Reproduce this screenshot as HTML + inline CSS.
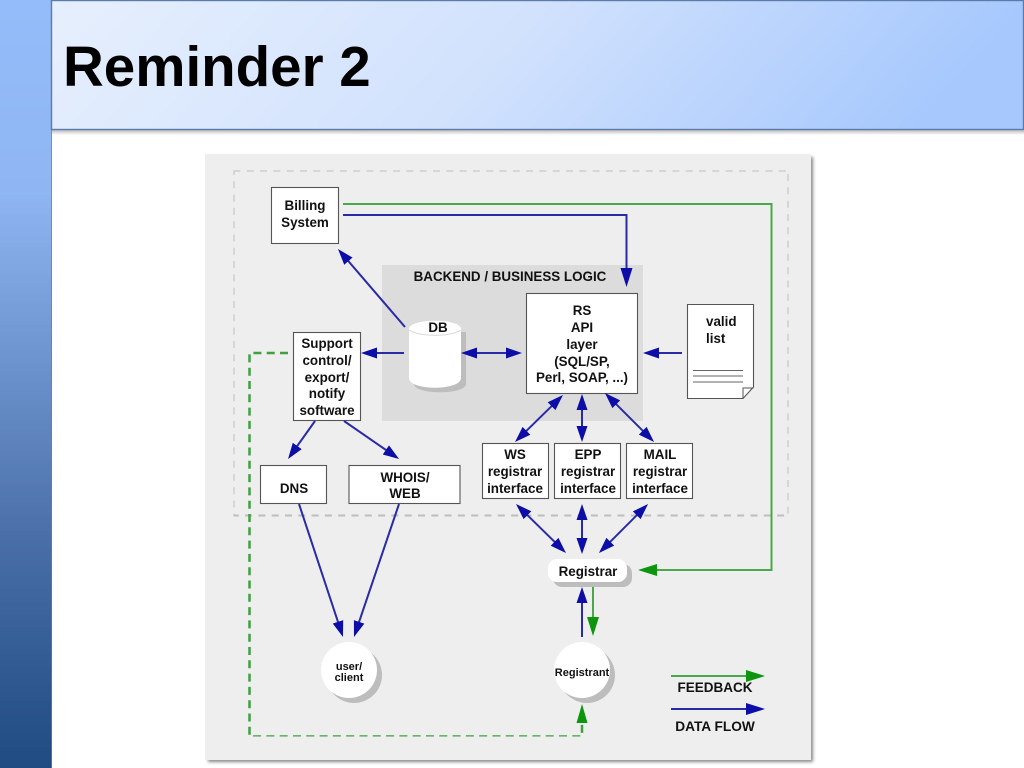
<!DOCTYPE html>
<html><head><meta charset="utf-8"><style>
html,body{margin:0;padding:0;background:#fff;width:1024px;height:768px;overflow:hidden}
svg{display:block;position:absolute;left:0;top:0}
text{font-family:"Liberation Sans",sans-serif;font-weight:bold;fill:#111;text-anchor:middle}
.t{font-size:13.4px}
.b{fill:#fff;stroke:#555;stroke-width:1.100}
.bl{stroke:#2a2aa8;stroke-width:2;fill:none}
.gr{stroke:#4aa84a;stroke-width:2;fill:none}
.e{marker-end:url(#mb)}
.d{marker-start:url(#mb);marker-end:url(#mb)}
.ge{marker-end:url(#mg)}
.ag{fill:#0a960a}
</style></head><body>
<svg width="1024" height="768" viewBox="0 0 1024 768" xmlns="http://www.w3.org/2000/svg">
<defs>
<linearGradient id="side" x1="0" y1="0" x2="0" y2="1"><stop offset="0" stop-color="#94bcfa"/><stop offset=".25" stop-color="#8fb6f2"/><stop offset=".7" stop-color="#4a6fa8"/><stop offset="1" stop-color="#1f4a82"/></linearGradient>
<linearGradient id="head" x1="0" y1="0" x2="1" y2="0.12"><stop offset="0" stop-color="#e6effd"/><stop offset=".5" stop-color="#d2e2fd"/><stop offset="1" stop-color="#a6c8fd"/></linearGradient>
<linearGradient id="hs" x1="0" y1="0" x2="0" y2="1"><stop offset="0" stop-color="#bbb"/><stop offset="1" stop-color="#fff"/></linearGradient>
<filter id="bl" x="-5%" y="-5%" width="110%" height="110%"><feGaussianBlur stdDeviation="1.5"/></filter>
<filter id="soft" x="0" y="0" width="100%" height="100%"><feGaussianBlur stdDeviation="0.3"/></filter>
<marker id="mb" markerUnits="userSpaceOnUse" markerWidth="16" markerHeight="12" refX="10" refY="6" orient="auto-start-reverse"><path d="M0 0.500L16 6L0 11.500Z" fill="#0a0aa8"/></marker>
<marker id="mg" markerUnits="userSpaceOnUse" markerWidth="19" markerHeight="13" refX="13" refY="6.500" orient="auto-start-reverse"><path d="M0 0.500L19 6.500L0 12.500Z" fill="#0a960a"/></marker>
<marker id="mbl" markerUnits="userSpaceOnUse" markerWidth="19" markerHeight="13" refX="13" refY="6.500" orient="auto-start-reverse"><path d="M0 0.500L19 6.500L0 12.500Z" fill="#0a0aa8"/></marker>
</defs>
<rect x="0" y="0" width="52" height="768" fill="url(#side)"/>
<rect x="51" y="130" width="1" height="638" fill="#5f7fae" opacity=".7"/>
<rect x="52" y="130" width="972" height="5" fill="url(#hs)"/>
<rect x="51.500" y="0.500" width="972" height="129" fill="url(#head)" stroke="#5b7bab" stroke-width="1.400"/>
<text x="63" y="86" style="font-size:56.500px;text-anchor:start;fill:#000">Reminder 2</text>

<rect x="208" y="157" width="605" height="605" fill="#888" filter="url(#bl)"/>
<rect x="205" y="154" width="606" height="606" fill="#eeeeee"/>
<g filter="url(#soft)">
<rect x="233.500" y="170.500" width="555" height="345" fill="none" stroke="#bdbdbd" stroke-width="2" stroke-dasharray="7 6.300"/>
<rect x="382" y="265" width="261" height="156" fill="#dcdcdc"/>

<!-- green dashed -->
<path d="M288 353H249.500V736.500H582V723" fill="none" stroke="#3f9f3f" stroke-width="2.500" stroke-dasharray="8 5.300"/>
<polygon class="ag" points="582,704 587.500,723 576.500,723"/>

<!-- boxes -->
<rect class="b" x="271.500" y="187.500" width="67" height="56"/>
<rect class="b" x="293.500" y="332.500" width="67" height="88"/>

<!-- DB -->
<path d="M414 332H466V384C466 395 414 395 414 384Z" fill="#bdbdbd"/>
<path d="M409 329C409 318 461 318 461 329V378C461 391 409 391 409 378Z" fill="#fff"/>
<path d="M409 330C420 337 450 337 461 330" fill="none" stroke="#d4d4d4" stroke-width="1"/>

<rect class="b" x="526.500" y="293.500" width="111" height="100"/>
<path class="b" d="M687.500 304.500H753.500V387L743 398.500H687.500Z"/>
<path d="M743 398.500V388H753.500" fill="none" stroke="#555"/>
<path d="M693 370.500H743M693 376H743M693 382H743" stroke="#666" stroke-width="1"/>

<rect class="b" x="482.500" y="443.500" width="66" height="55"/>
<rect class="b" x="554.500" y="443.500" width="66" height="55"/>
<rect class="b" x="626.500" y="443.500" width="66" height="55"/>
<rect class="b" x="260.500" y="465.500" width="66" height="38"/>
<rect class="b" x="349" y="465.500" width="111" height="38"/>

<!-- registrar -->
<rect x="553" y="564" width="79" height="23" rx="9" fill="#bdbdbd"/>
<rect x="548" y="559" width="79" height="23" rx="9" fill="#fff"/>

<!-- circles -->
<circle cx="354" cy="675" r="28" fill="#bdbdbd"/><circle cx="349" cy="670" r="28" fill="#fff"/>
<circle cx="587" cy="675" r="28" fill="#bdbdbd"/><circle cx="582" cy="670" r="28" fill="#fff"/>

<!-- green lines -->
<path class="gr ge" d="M343 204H771.500V570H644"/>
<path class="gr ge" d="M593 587V630"/>
<path class="gr ge" d="M671 676H759"/>

<!-- blue lines -->
<path class="bl" d="M343 215H626.500V281" style="marker-end:url(#mbl)"/>
<path class="bl e" d="M405 327L341.900 253.600"/>
<path class="bl e" d="M404 353H367"/>
<path class="bl d" d="M467 353H516"/>
<path class="bl e" d="M682 353H649"/>
<path class="bl d" d="M558.700 399.200L519.300 437.800"/>
<path class="bl d" d="M582 400V436"/>
<path class="bl d" d="M609.200 397.200L649.800 437.800"/>
<path class="bl e" d="M315 421L291.500 454.100"/>
<path class="bl e" d="M344 421L394.100 455.600"/>
<path class="bl e" d="M299 504L341.100 631.300"/>
<path class="bl e" d="M399 504L355.900 631.300"/>
<path class="bl d" d="M520.300 508.200L561.700 548.800"/>
<path class="bl d" d="M582 510V548"/>
<path class="bl d" d="M643.800 508.200L603.200 548.800"/>
<path class="bl e" d="M582 637V593"/>
<path class="bl" d="M671 709H759" style="marker-end:url(#mbl)"/>
</g>

<!-- labels -->
<text x="510" y="281" class="t">BACKEND / BUSINESS LOGIC</text>
<text x="305" y="210" class="t">Billing</text><text x="305" y="227" class="t">System</text>
<text x="327" y="348" class="t">Support</text><text x="327" y="365" class="t">control/</text><text x="327" y="382" class="t">export/</text><text x="327" y="398" class="t">notify</text><text x="327" y="415" class="t">software</text>
<text x="438" y="332" class="t">DB</text>
<text x="582" y="315" class="t">RS</text><text x="582" y="332" class="t">API</text><text x="582" y="349" class="t">layer</text><text x="582" y="366" class="t">(SQL/SP,</text><text x="582" y="382" class="t">Perl, SOAP, ...)</text>
<text x="706" y="326" class="t" style="text-anchor:start">valid</text><text x="706" y="343" class="t" style="text-anchor:start">list</text>
<text x="515" y="459" class="t">WS</text><text x="515" y="476" class="t">registrar</text><text x="515" y="493" class="t">interface</text>
<text x="588" y="459" class="t">EPP</text><text x="588" y="476" class="t">registrar</text><text x="588" y="493" class="t">interface</text>
<text x="660" y="459" class="t">MAIL</text><text x="660" y="476" class="t">registrar</text><text x="660" y="493" class="t">interface</text>
<text x="294" y="493" class="t">DNS</text>
<text x="405" y="482" class="t">WHOIS/</text><text x="405" y="498" class="t">WEB</text>
<text x="588" y="576" class="t">Registrar</text>
<text x="349" y="670" style="font-size:11px">user/</text><text x="349" y="681" style="font-size:11px">client</text>
<text x="582" y="676" style="font-size:11px">Registrant</text>
<text x="715" y="692" style="font-size:13.500px">FEEDBACK</text>
<text x="715" y="731" style="font-size:13.700px">DATA FLOW</text>
</svg>
</body></html>
